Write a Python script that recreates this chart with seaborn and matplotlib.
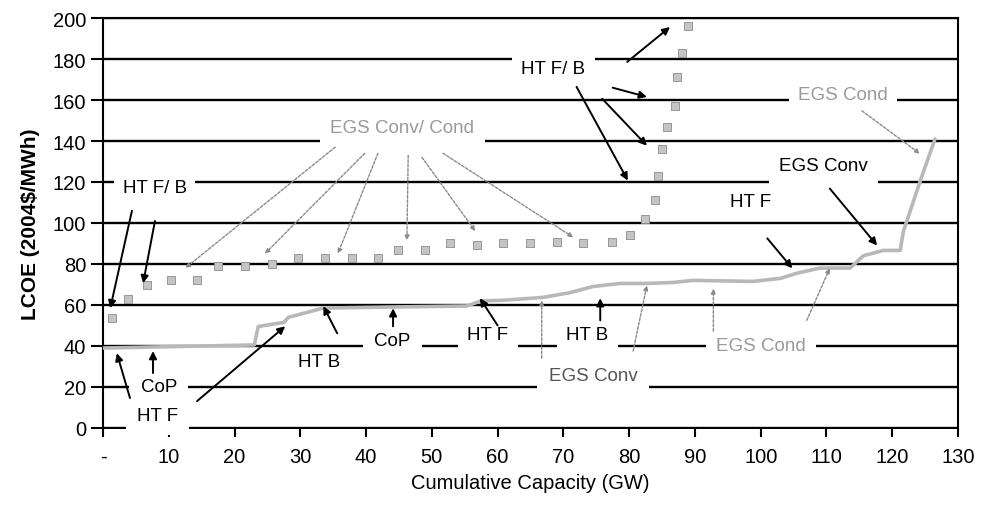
import matplotlib
matplotlib.use('Agg')
import matplotlib.pyplot as plt
import seaborn as sns
import pandas as pd

# supply curve
# upper series (squares): HT flash/binary + EGS conv/cond
upper_gw = [1.4, 3.8, 6.7, 10.3, 14.3, 17.5, 21.6, 25.7, 29.6, 33.8, 37.9, 41.8,
            44.9, 49.0, 52.8, 56.9, 60.8, 64.9, 69.0, 73.0, 77.4, 80.1, 82.4,
            83.9, 84.4, 85.0, 85.8, 87.0, 87.3, 88.0, 89.0]
upper_lcoe = [53.5, 63, 69.6, 72, 72, 79, 79, 80, 82.7, 82.7, 82.7, 82.7,
              86.6, 87, 90, 89.5, 90, 90, 90.5, 90, 90.5, 94, 102,
              111, 123, 136, 147, 157, 171, 183, 196]

# lower series (line): CoP, HT F/B, EGS conv/cond
lower_gw = [0, 23.0, 23.6, 27.5, 28.2, 33.5, 43.6, 55.3, 57.5, 60.8, 66.9, 71.0,
            74.5, 78.6, 82.7, 86.7, 89.7, 98.8, 103.0, 105.5, 109.0, 113.6,
            115.6, 118.6, 121.2, 121.7, 124.2, 126.5]
lower_lcoe = [39, 40.5, 49.5, 51.5, 54, 58.5, 59, 59.5, 62, 62.3, 63.7, 66,
              69, 70.5, 70.5, 71, 72, 71.5, 73, 75.5, 78, 78,
              84, 86.6, 86.6, 96, 120, 141]

x_ticks = list(range(0, 131, 10))
x_tick_labels = ['-'] + [str(v) for v in x_ticks[1:]]
y_ticks = list(range(0, 201, 20))

# annotation labels: text, position, colour, box pad, arrows (from, to, kind)
labels = [
    ('HT F/ B', (7.9, 117.5), 'black', 0.45,
     [((4.4, 106), (1.1, 58.4), 'solid'), ((7.9, 101), (6.1, 70.6), 'solid')]),
    ('EGS Conv/ Cond', (45.5, 146.5), '#9a9a9a', 0.55,
     [((35.3, 137), (12.5, 78), 'dot'), ((39.8, 134), (24.6, 85), 'dot'),
      ((41.8, 134), (35.7, 85), 'dot'), ((46.4, 133), (46.2, 91.5), 'dot'),
      ((48.5, 132), (56.6, 96), 'dot'), ((51.7, 134), (71.5, 93), 'dot')]),
    ('HT F/ B', (68.5, 175.5), 'black', 0.5,
     [((79.7, 178.6), (86.2, 195.6), 'solid'), ((77.5, 166), (82.7, 161.5), 'solid'),
      ((75.9, 160.6), (82.7, 137.7), 'solid'), ((72.0, 166.4), (79.8, 120.7), 'solid')]),
    ('EGS Cond', (112.5, 162.5), '#9a9a9a', 0.5,
     [((115.4, 154.7), (124.2, 133.8), 'dot')]),
    ('EGS Conv', (109.5, 128.0), 'black', 0.55,
     [((110.5, 116.8), (117.7, 89), 'solid')]),
    ('HT F', (98.4, 110.5), 'black', 0.3,
     [((101.0, 92.5), (104.8, 77.9), 'solid')]),
    ('EGS Cond', (100.0, 40.4), '#9a9a9a', 0.55,
     [((92.8, 47.2), (92.8, 68), 'dot'), ((107.0, 52.5), (110.5, 77.9), 'dot')]),
    ('EGS Conv', (74.5, 25.8), '#555555', 0.6,
     [((66.7, 34), (66.7, 62.3), 'dot'), ((80.6, 37.5), (82.7, 69.6), 'dot')]),
    ('HT F', (58.5, 45.8), 'black', 0.5,
     [((60.0, 50), (57.3, 63.3), 'solid')]),
    ('HT B', (73.6, 45.8), 'black', 0.5,
     [((75.6, 52.5), (75.6, 63.3), 'solid')]),
    ('CoP', (44.0, 42.5), 'black', 0.6,
     [((44.1, 49.6), (44.1, 58.4), 'solid')]),
    ('HT B', (32.8, 32.6), 'black', 0.05,
     [((35.6, 46.2), (33.5, 59.4), 'solid'), ((14.3, 13.1), (27.7, 49.6), 'solid')]),
    ('CoP', (8.5, 20.0), 'black', 0.6,
     [((7.6, 26.8), (7.6, 37.5), 'solid')]),
    ('HT F', (8.3, 6.3), 'black', 0.6,
     [((4.1, 14.6), (2.1, 36.5), 'solid')]),
]

sns.set_theme(style='white')
plt.rcParams['font.family'] = ['Liberation Sans', 'DejaVu Sans']

fig = plt.figure(figsize=(9.83, 5.10), dpi=100)
ax = fig.add_axes([0.1048, 0.1569, 0.8698, 0.8058])

up = pd.DataFrame({'gw': upper_gw, 'lcoe': upper_lcoe})
lo = pd.DataFrame({'gw': lower_gw, 'lcoe': lower_lcoe})
sns.lineplot(data=lo, x='gw', y='lcoe', ax=ax, color='#b8b8b8', lw=2.6,
             sort=False, zorder=4)
sns.scatterplot(data=up, x='gw', y='lcoe', ax=ax, marker='s', s=26,
                color='#c4c4c4', edgecolor='#8c8c8c', linewidth=0.6, zorder=4)

ax.set_xlim(0, 130)
ax.set_ylim(-0.5, 200)
ax.set_xticks(x_ticks)
ax.set_xticklabels(x_tick_labels)
ax.set_yticks(y_ticks)
ax.tick_params(axis='x', bottom=True, direction='out', length=6, width=1.5,
               color='black', labelsize=14.5, pad=7, labelcolor='black')
ax.tick_params(axis='y', left=True, direction='out', length=9, width=1.5,
               color='black', labelsize=14.5, pad=3, labelcolor='black')

ax.set_axisbelow(True)
ax.yaxis.grid(True, color='black', lw=1.7)
ax.xaxis.grid(False)
for side in ['left', 'top', 'right']:
    ax.spines[side].set_visible(True)
    ax.spines[side].set_color('black')
    ax.spines[side].set_linewidth(1.5)
ax.spines['bottom'].set_visible(False)

ax.set_xlabel('Cumulative Capacity (GW)', fontsize=14.5, color='black', labelpad=5)
ax.set_ylabel('LCOE (2004$/MWh)', fontsize=15, fontweight='bold', color='black',
              labelpad=9)

for text, pos, col, pad, arrows in labels:
    ax.text(pos[0], pos[1], text, color=col, fontsize=13.5, ha='center',
            va='center', zorder=3,
            bbox=dict(boxstyle=f'square,pad={pad}', fc='white', ec='none'))
    for start, end, kind in arrows:
        if kind == 'solid':
            props = dict(arrowstyle='-|>', color='black', lw=1.4,
                         mutation_scale=11, shrinkA=0, shrinkB=0)
        else:
            props = dict(arrowstyle='-|>', color='#8a8a8a', lw=1.0,
                         linestyle=(0, (2, 1.2)), mutation_scale=7,
                         shrinkA=0, shrinkB=0)
        ax.annotate('', xy=end, xytext=start, arrowprops=props, zorder=5)

fig.savefig('out.png', dpi=100)
